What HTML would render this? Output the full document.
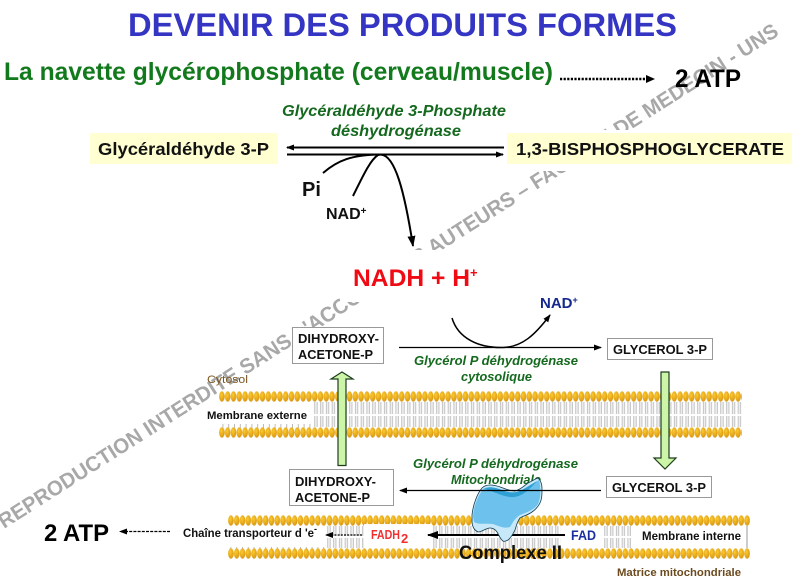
<!DOCTYPE html>
<html><head><meta charset="utf-8">
<style>
html,body{margin:0;padding:0;background:#fff;width:796px;height:582px;overflow:hidden}
svg{display:block}
text{font-family:"Liberation Sans",sans-serif;font-weight:bold}
.i{font-style:italic;fill:#14691e}
</style></head><body>
<svg width="796" height="582" viewBox="0 0 796 582" xmlns="http://www.w3.org/2000/svg">
<defs>
<radialGradient id="b" cx=".4" cy=".35" r=".7"><stop offset="0" stop-color="#fccb2e"/><stop offset="1" stop-color="#d8930e"/></radialGradient>
<pattern id="beads" width="5.8" height="11" patternUnits="userSpaceOnUse"><ellipse cx="2.9" cy="5.5" rx="2.8" ry="5.2" fill="url(#b)"/></pattern>
<pattern id="tailT" width="5.8" height="30" patternUnits="userSpaceOnUse"><rect x="1.7" width="2.5" height="30" fill="#eeeeee"/><path d="M1.7 0V30M4.2 0V30" stroke="#b0b0b0" stroke-width=".7" fill="none"/></pattern>
<pattern id="tick" width="5.8" height="5" patternUnits="userSpaceOnUse"><path d="M2.9 0V5" stroke="#aaa" stroke-width=".8"/></pattern>
<marker id="a" markerWidth="8" markerHeight="6" refX="7" refY="3" orient="auto" markerUnits="userSpaceOnUse"><path d="M0 0L8 3L0 6Z" fill="#000"/></marker>
<marker id="a2" markerWidth="11" markerHeight="8" refX="10" refY="4" orient="auto" markerUnits="userSpaceOnUse"><path d="M0 0L11 4L0 8Z" fill="#000"/></marker>
</defs>

<!-- Watermark -->
<text transform="translate(4,529) rotate(-32.5)" font-size="21" fill="#a8a8a8" textLength="920" lengthAdjust="spacingAndGlyphs">REPRODUCTION INTERDITE SANS L'ACCORD DES AUTEURS – FACULTE DE MEDECIN - UNS</text>
<rect x="340" y="250" width="150" height="52" fill="#fff"/>
<rect x="505" y="130" width="291" height="41" fill="#fff"/>

<!-- Outer membrane -->
<g transform="translate(313,402)"><rect width="429" height="12" fill="url(#tailT)"/></g>
<g transform="translate(313,416)"><rect width="429" height="11" fill="url(#tailT)"/></g>
<g transform="translate(220,424)"><rect width="93" height="4" fill="url(#tick)"/></g>
<g transform="translate(219,391)"><rect width="523" height="11" fill="url(#beads)"/></g>
<g transform="translate(219,427)"><rect width="523" height="11" fill="url(#beads)"/></g>

<!-- Inner membrane -->
<g transform="translate(228,547)"><rect width="100" height="4" fill="url(#tick)"/></g>
<g transform="translate(326,526)"><rect width="38" height="10" fill="url(#tailT)"/></g>
<g transform="translate(326,538)"><rect width="38" height="10" fill="url(#tailT)"/></g>
<g transform="translate(432,526)"><rect width="129" height="10" fill="url(#tailT)"/></g>
<g transform="translate(432,538)"><rect width="129" height="10" fill="url(#tailT)"/></g>
<g transform="translate(603,526)"><rect width="30" height="10" fill="url(#tailT)"/></g>
<g transform="translate(603,538)"><rect width="30" height="10" fill="url(#tailT)"/></g>
<rect x="746" y="526" width="2" height="22" fill="#ccc"/>
<g transform="translate(228,515)"><rect width="522" height="11" fill="url(#beads)"/></g>
<g transform="translate(228,548)"><rect width="522" height="11" fill="url(#beads)"/></g>

<!-- Title -->
<text x="128" y="36" font-size="32" fill="#3535c4" textLength="549" lengthAdjust="spacingAndGlyphs">DEVENIR DES PRODUITS FORMES</text>
<text x="4" y="80" font-size="25" fill="#127a1c" textLength="549" lengthAdjust="spacingAndGlyphs">La navette glycérophosphate (cerveau/muscle)</text>
<path d="M560 79H646" stroke="#000" stroke-width="2.400" stroke-dasharray="2.200 1.400"/>
<path d="M646 75L655 79L646 83Z" fill="#000"/>
<text x="675" y="87" font-size="25" fill="#000" textLength="66" lengthAdjust="spacingAndGlyphs">2 ATP</text>

<!-- Upper reaction -->
<text class="i" x="282" y="116" font-size="15.500" textLength="224" lengthAdjust="spacingAndGlyphs">Glycéraldéhyde 3-Phosphate</text>
<text class="i" x="331" y="136" font-size="15.500" textLength="130" lengthAdjust="spacingAndGlyphs">déshydrogénase</text>
<rect x="90" y="133" width="188" height="31" fill="#ffffd2"/>
<rect x="507" y="133" width="285" height="31" fill="#ffffd2"/>
<text x="98" y="155" font-size="17.500" fill="#111" textLength="171" lengthAdjust="spacingAndGlyphs">Glycéraldéhyde 3-P</text>
<text x="516" y="155" font-size="17.500" fill="#111" textLength="268" lengthAdjust="spacingAndGlyphs">1,3-BISPHOSPHOGLYCERATE</text>
<path d="M504 147.500H287" stroke="#000" stroke-width="2" marker-end="url(#a)"/>
<path d="M287 154.500H503" stroke="#000" stroke-width="2" marker-end="url(#a)"/>
<path d="M323 173C338 160 352 155 380 154.500" stroke="#000" stroke-width="2" fill="none"/>
<path d="M353 196C362 178 370 160 378 155" stroke="#000" stroke-width="2" fill="none"/>
<path d="M378 155C395 150 405 195 413 246" stroke="#000" stroke-width="2" fill="none" marker-end="url(#a2)"/>
<text x="302" y="196" font-size="20" fill="#111">Pi</text>
<text x="326" y="219" font-size="16" fill="#111">NAD<tspan font-size="10" dy="-5">+</tspan></text>
<text x="353" y="286" font-size="24" fill="#f00a14" textLength="117" lengthAdjust="spacingAndGlyphs">NADH + H</text>
<text x="470" y="277" font-size="13" fill="#f00a14">+</text>

<!-- Lower cytosol -->
<rect x="292.500" y="327.500" width="91" height="36" fill="#fff" stroke="#999"/>
<text x="298" y="343" font-size="12.500" fill="#111" textLength="81" lengthAdjust="spacingAndGlyphs">DIHYDROXY-</text>
<text x="298" y="359" font-size="12.500" fill="#111" textLength="75" lengthAdjust="spacingAndGlyphs">ACETONE-P</text>
<path d="M399 347.500H601" stroke="#000" stroke-width="1.300" marker-end="url(#a)"/>
<path d="M452 318C458 338 478 348 503 347.500C522 347 535 335 550 315" stroke="#000" stroke-width="1.500" fill="none" marker-end="url(#a)"/>
<text x="540" y="308" font-size="15" fill="#14288f">NAD<tspan font-size="9" dy="-5">+</tspan></text>
<rect x="607.500" y="338.500" width="105" height="21" fill="#fff" stroke="#999"/>
<text x="613" y="354" font-size="13" fill="#111" textLength="94" lengthAdjust="spacingAndGlyphs">GLYCEROL 3-P</text>
<text class="i" x="414" y="365" font-size="12.500" textLength="164" lengthAdjust="spacingAndGlyphs">Glycérol P  déhydrogénase</text>
<text class="i" x="461" y="381" font-size="12.500" textLength="71" lengthAdjust="spacingAndGlyphs">cytosolique</text>
<text x="207" y="383" font-size="11" fill="#7a5520" textLength="41" lengthAdjust="spacingAndGlyphs" style="font-weight:normal">Cytosol</text>
<rect x="205" y="408" width="104" height="15" fill="#fff"/>
<text x="207" y="419" font-size="11" fill="#111" textLength="100" lengthAdjust="spacingAndGlyphs">Membrane externe</text>

<!-- Block arrows -->
<path d="M338 465.500V379H331L342 372L353 379H346V465.500Z" fill="#ccf5a8" stroke="#1d3d1d" stroke-width="1.200"/>
<path d="M661 372V458H654L665 469L676 458H669V372Z" fill="#ccf5a8" stroke="#1d3d1d" stroke-width="1.200"/>

<!-- Lower mito -->
<rect x="289.500" y="469.500" width="104" height="36" fill="#fff" stroke="#999"/>
<text x="295" y="486" font-size="12.500" fill="#111" textLength="81" lengthAdjust="spacingAndGlyphs">DIHYDROXY-</text>
<text x="295" y="502" font-size="12.500" fill="#111" textLength="75" lengthAdjust="spacingAndGlyphs">ACETONE-P</text>
<rect x="606.500" y="476.500" width="105" height="21" fill="#fff" stroke="#999"/>
<text x="612" y="492" font-size="13" fill="#111" textLength="94" lengthAdjust="spacingAndGlyphs">GLYCEROL 3-P</text>
<text class="i" x="413" y="468" font-size="12.500" textLength="165" lengthAdjust="spacingAndGlyphs">Glycérol P  déhydrogénase</text>
<text class="i" x="451" y="484" font-size="12.500" textLength="90" lengthAdjust="spacingAndGlyphs">Mitochondriale</text>

<!-- FADH / FAD labels and arrow (behind Complex II) -->
<rect x="364" y="524" width="68" height="24" fill="#fff" opacity=".95"/>
<text x="371" y="539" font-size="13" fill="#f03030" textLength="29" lengthAdjust="spacingAndGlyphs">FADH</text>
<text x="401" y="543" font-size="13" fill="#f03030">2</text>
<path d="M565 535H428" stroke="#000" stroke-width="2" marker-end="url(#a2)"/>

<!-- Complex II -->
<path d="M472 515C473 505 477 494 482 488C485 485 488 485 490 485C496 485 500 487 503 488C508 490 511 491 515 491C520 490 524 486 528 483C532 481 535 479 538 478C541 481 542 485 542 488C542 494 542 499 540 503C538 507 535 510 532 512C528 515 523 516 520 518C517 522 516 527 515 530C513 534 511 538 508 540C506 541 504 542 503 541C500 539 499 535 497 532C495 529 492 528 490 528C486 528 482 532 478 532C474 530 472 526 472 522Z" fill="#c6e8f8" stroke="#0e3a50" stroke-width=".8"/>
<path d="M473 516C474 505 478 496 483 489C486 487 489 487 491 487C497 488 503 491 512 493C518 493 526 488 539 480C541 488 541 497 538 504C535 509 528 512 520 515C515 518 513 522 510 527C504 529 499 526 493 524C487 523 479 525 474 522Z" fill="#6cc2ec"/>
<path d="M484 489C490 486 498 488 504 491C510 493 516 493 522 490C527 487 532 484 537 481C530 489 523 496 514 497C504 498 494 491 484 489Z" fill="#2f9fd4"/>
<path d="M601 490.500H400" stroke="#000" stroke-width="1.200" marker-end="url(#a)"/>

<!-- Inner membrane labels -->
<rect x="567" y="526" width="34" height="20" fill="#fff"/>
<text x="571" y="540" font-size="13.500" fill="#1a2f9e" textLength="25" lengthAdjust="spacingAndGlyphs">FAD</text>
<rect x="636" y="527" width="108" height="20" fill="#fff"/>
<text x="642" y="540" font-size="11.500" fill="#111" textLength="99" lengthAdjust="spacingAndGlyphs">Membrane interne</text>
<text x="459" y="559" font-size="19.500" fill="#111" textLength="103" lengthAdjust="spacingAndGlyphs">Complexe II</text>
<text x="617" y="576" font-size="11" fill="#6b4a1e" textLength="124" lengthAdjust="spacingAndGlyphs">Matrice mitochondriale</text>
<path d="M362 535H326" stroke="#000" stroke-width="1.200" stroke-dasharray="2 1.200" marker-end="url(#a)"/>
<text x="183" y="537" font-size="11.500" fill="#111" textLength="131" lengthAdjust="spacingAndGlyphs">Chaîne transporteur d 'e</text>
<text x="314" y="532" font-size="9" fill="#111">-</text>
<path d="M170 531.500H120" stroke="#000" stroke-width="1.200" stroke-dasharray="3 1.200" marker-end="url(#a)"/>
<text x="44" y="541" font-size="24" fill="#000" textLength="65" lengthAdjust="spacingAndGlyphs">2 ATP</text>
</svg>
</body></html>
